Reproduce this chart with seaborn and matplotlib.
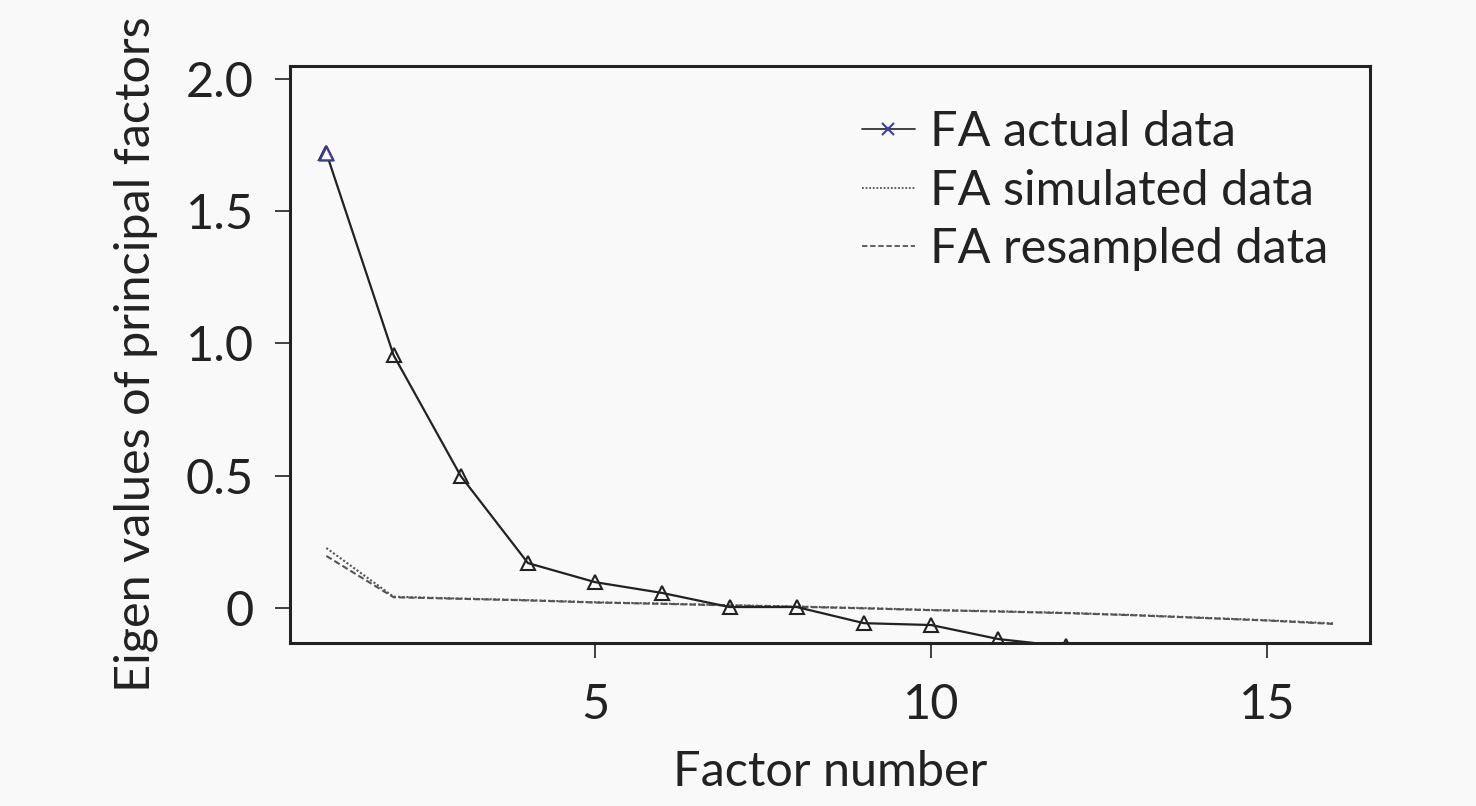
import matplotlib
matplotlib.use("Agg")
import matplotlib.pyplot as plt
import pandas as pd
import seaborn as sns
from matplotlib.lines import Line2D

# eigen values
factors = list(range(1, 17))
actual = [1.72, 0.956, 0.499, 0.170, 0.098, 0.057, 0.004, 0.004,
          -0.057, -0.064, -0.117, -0.145, -0.17, -0.19, -0.21, -0.23]
simulated = [0.227, 0.043, 0.036, 0.030, 0.022, 0.017, 0.011, 0.006,
             0.0, -0.007, -0.012, -0.018, -0.026, -0.036, -0.046, -0.058]
resampled = [0.197, 0.041, 0.035, 0.029, 0.021, 0.016, 0.010, 0.005,
             -0.001, -0.008, -0.013, -0.019, -0.027, -0.037, -0.047, -0.060]
yticks = [0, 0.5, 1.0, 1.5, 2.0]
ytick_labels = ['0', '0.5', '1.0', '1.5', '2.0']
xticks = [5, 10, 15]
legend_labels = ['FA actual data', 'FA simulated data', 'FA resampled data']

df = pd.DataFrame({'factor': factors, 'actual': actual,
                   'simulated': simulated, 'resampled': resampled})

sns.set_style('white')
plt.rcParams['font.family'] = ['Lato', 'DejaVu Sans']
bg = '#f9f9f9'
ink = '#222222'
fs = 35

fig = plt.figure(figsize=(14.76, 8.06), dpi=100, facecolor=bg)
ax = fig.add_axes([0.1965, 0.2022, 0.7317, 0.7159])
ax.set_facecolor(bg)

sns.lineplot(data=df, x='factor', y='simulated', ax=ax, color='#555555',
             linestyle=(0, (1, 1)), linewidth=1.5)
sns.lineplot(data=df, x='factor', y='resampled', ax=ax, color='#555555',
             linestyle=(0, (3, 1.5)), linewidth=1.5)
sns.lineplot(data=df, x='factor', y='actual', ax=ax, color=ink,
             linewidth=1.6, marker='^', markersize=10, markerfacecolor='none',
             markeredgecolor=ink, markeredgewidth=1.5)
# first point is drawn in blue in the original
sns.scatterplot(x=factors[:1], y=actual[:1], ax=ax, marker='^', s=100,
                facecolor=bg, edgecolor='#3c3c96', linewidth=1.7, zorder=5)

ax.set_xlim(0.46, 16.53)
ax.set_ylim(-0.132, 2.048)
ax.set_yticks(yticks)
ax.set_yticklabels(ytick_labels)
ax.set_xticks(xticks)
ax.tick_params(axis='both', direction='out', length=11, width=1.2,
               labelsize=fs, colors=ink, left=True, bottom=True)
ax.tick_params(axis='x', pad=18)
ax.tick_params(axis='y', pad=15)
for s in ax.spines.values():
    s.set_color(ink)
    s.set_linewidth(2.2)

ax.set_xlabel('Factor number', fontsize=fs, color=ink, labelpad=16)
ax.set_ylabel('Eigen values of principal factors', fontsize=fs,
              color=ink, labelpad=20)

handles = [
    Line2D([], [], color='#333333', linewidth=1.3, marker='x', markersize=8,
           markeredgecolor='#3c3caa', markeredgewidth=1.5),
    Line2D([], [], color='#555555', linestyle=(0, (1, 1)), linewidth=1.3),
    Line2D([], [], color='#555555', linestyle=(0, (3, 1.5)), linewidth=1.3),
]
fig.legend(handles, legend_labels, loc='upper left',
           bbox_to_anchor=(0.584, 0.863), frameon=False, fontsize=fs,
           borderpad=0, borderaxespad=0, handlelength=1.09,
           handletextpad=0.31, labelspacing=0.29, labelcolor=ink)

fig.savefig('out.png', dpi=100, facecolor=bg)
